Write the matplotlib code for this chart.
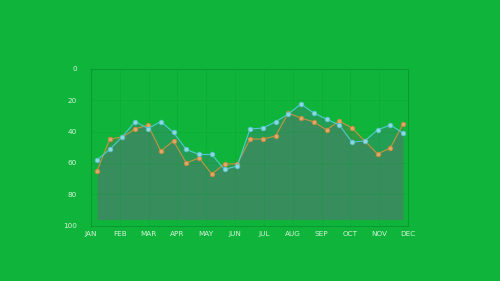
import numpy as np
import matplotlib
matplotlib.use("Agg")
import matplotlib.pyplot as plt

months = ["JAN", "FEB", "MAR", "APR", "MAY", "JUN", "JUL", "AUG", "SEP", "OCT", "NOV", "DEC"]
y_ticks = [0, 20, 40, 60, 80, 100]

cyan_vals = [58.1, 51.4, 43.2, 33.7, 38.1, 33.7, 40.6, 51.4, 54.6, 54.6, 64.1, 61.9,
             38.4, 37.8, 33.9, 28.9, 22.5, 28.3, 32.1, 35.9, 46.7, 46.0, 39.0, 35.9, 40.9]
orange_vals = [65.1, 44.8, 43.5, 38.4, 35.9, 52.4, 46.0, 60.0, 56.8, 67.0, 60.6, 60.6,
               44.8, 44.8, 42.9, 28.3, 31.4, 33.9, 39.0, 33.3, 37.8, 46.0, 54.3, 50.5, 35.2]
fill_base = 96

bg = "#0fb53b"
fig = plt.figure(figsize=(5.0, 2.81), dpi=100, facecolor=bg)
ax = fig.add_axes([0.182, 0.196, 0.634, 0.560])
ax.set_facecolor(bg)

x = np.arange(len(cyan_vals))
xmin, xmax = -0.47, 24.39

ax.fill_between(x, orange_vals, fill_base, color="#6e6a5c", alpha=0.34, linewidth=0, zorder=1)
ax.fill_between(x, cyan_vals, fill_base, color="#4a7488", alpha=0.34, linewidth=0, zorder=1)

ax.plot(x, orange_vals, color="#c99242", lw=0.8, marker="o", ms=3.3,
        mfc="#dfa86a", mec="#c4883c", mew=0.6, zorder=3)
ax.plot(x, cyan_vals, color="#52c9d2", lw=0.8, marker="o", ms=3.3,
        mfc="#8fd8e0", mec="#58c2cc", mew=0.6, zorder=4)

ax.set_xlim(xmin, xmax)
ax.set_ylim(100, 0)
ax.set_xticks(np.linspace(xmin, xmax, 12))
ax.set_xticklabels(months)
ax.set_yticks(y_ticks)
ax.tick_params(axis="both", length=0, colors="#d6f2da", labelsize=5.2)
ax.tick_params(axis="x", pad=4)
ax.tick_params(axis="y", pad=10)
ax.grid(True, color="#0a9e33", lw=0.4, alpha=0.6, zorder=0)
for s in ax.spines.values():
    s.set_color("#0a9a30")
    s.set_linewidth(0.8)

fig.savefig("out.png", dpi=100, facecolor=bg)
